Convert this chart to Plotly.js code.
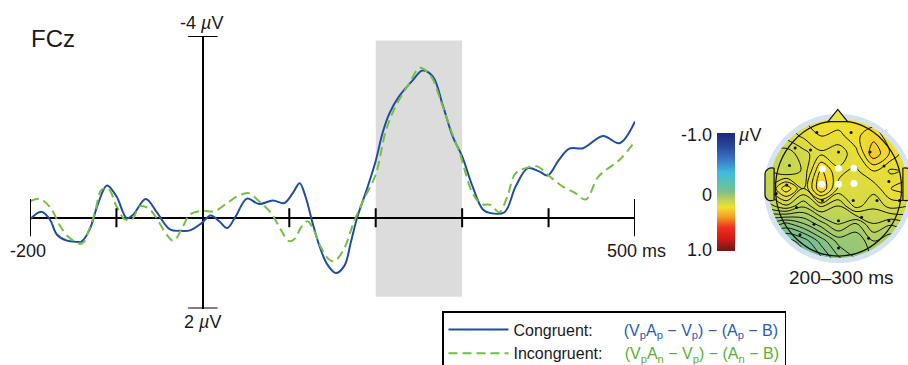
<!DOCTYPE html>
<html>
<head>
<meta charset="utf-8">
<script src="https://cdn.plot.ly/plotly-3.0.1.min.js"></script>
<style>
  html, body { margin: 0; padding: 0; background: #fff; }
  #chart { width: 908px; height: 365px; }
</style>
</head>
<body>
<div id="chart"></div>
<script>
// ---- ERP difference waves at FCz (time in ms, amplitude in µV; negative is plotted upward) ----
const congruentTime = [-200,-187,-177,-169,-158,-148,-140,-131,-121,-111,-100,-88,-81,-66,-54,-38,-25,-15,-2,
  9,19,28,38,51,65,81,94,104,112,119,127,135,144,154,164,171,179,190,200,208,216,227,243,254,266,278,289,300,
  312,324,333,349,362,376,389,399,412,424,440,463,482,500];
const congruentAmp = [0.04,-0.13,0.04,0.37,0.50,0.53,0.52,0.26,-0.32,-0.71,-0.47,0.01,-0.06,-0.41,-0.14,0.26,0.29,0.28,0.13,
  -0.05,0.08,0.23,-0.03,-0.42,-0.30,-0.38,-0.32,-0.54,-0.76,-0.45,0.12,0.63,1.03,1.22,1.05,0.56,-0.03,-0.64,-1.25,-1.87,-2.30,-2.67,-3.03,-3.24,-3.11,-2.45,-1.79,-1.35,
  -0.69,-0.18,-0.10,-0.12,-0.69,-1.09,-1.02,-0.93,-1.27,-1.52,-1.53,-1.80,-1.64,-2.12];

const incongruentTime = [-200,-188,-175,-165,-154,-140,-131,-125,-117,-109,-100,-90,-82,-73,-63,-54,-42,-34,-23,-15,0,
  13,28,40,53,65,79,90,100,107,113,121,128,136,146,152,163,175,188,200,212,223,239,251,264,275,287,298,304,
  312,322,333,343,352,362,377,387,401,416,431,443,458,482,500];
const incongruentAmp = [-0.36,-0.41,-0.18,0.19,0.45,0.57,0.23,-0.10,-0.62,-0.63,-0.25,0.04,0.04,-0.25,-0.21,0.00,0.37,0.51,0.19,-0.07,-0.15,
  -0.14,-0.32,-0.47,-0.54,-0.36,-0.10,0.26,0.52,0.45,0.23,0.08,0.26,0.63,0.92,0.96,0.70,0.08,-0.47,-0.95,-1.93,-2.45,-2.96,-3.30,-3.11,-2.59,-1.93,-1.38,-0.98,
  -0.54,-0.30,-0.28,-0.12,-0.45,-0.98,-1.11,-1.13,-0.91,-0.69,-0.54,-0.40,-0.91,-1.27,-1.68];

const xTickValues = [-200, -100, 100, 200, 300, 400, 500];
const timeRange = [-200, 500];
const ampRange = [2, -4];          // bottom, top
const analysisWindow = [200, 300]; // ms

// ---- Scalp map, 200–300 ms (normalised head coordinates, µV) ----
const mapCoord = [-1, -0.75, -0.5, -0.25, 0, 0.25, 0.5, 0.75, 1];
// rows listed from the front of the head (top) to the back (bottom)
const mapAmpFrontToBack = [
  [ 0.22, 0.23, 0.25, 0.26, 0.27, 0.27, 0.26, 0.25, 0.24],
  [ 0.20, 0.21, 0.23, 0.25, 0.24, 0.27, 0.29, 0.26, 0.24],
  [ 0.17, 0.16, 0.19, 0.22, 0.21, 0.24, 0.32, 0.27, 0.23],
  [ 0.18, 0.15, 0.18, 0.28, 0.23, 0.22, 0.25, 0.22, 0.23],
  [ 0.19, 0.27, 0.20, 0.30, 0.22, 0.21, 0.21, 0.25, 0.27],
  [ 0.14, 0.17, 0.13, 0.18, 0.15, 0.21, 0.18, 0.21, 0.20],
  [ 0.05, 0.02, 0.05, 0.09, 0.13, 0.10, 0.15, 0.13, 0.15],
  [-0.04,-0.06,-0.04, 0.01, 0.06, 0.05, 0.10, 0.08, 0.11],
  [-0.05,-0.06,-0.06,-0.03, 0.02, 0.05, 0.08, 0.09, 0.10]
];
const electrodeX = [-0.31, 0.18, -0.40, -0.70, -0.74, 0.65, 0.72, 0.55, 0.21, -0.23, -0.60, 0.00, 0.33, -0.35, 0.72, -0.55, 0.00, 0.43, 0.87, -0.89, 0.00, -0.62, 0.45];
const electrodeY = [ 0.80, 0.80, 0.55, 0.33, 0.05, 0.32, 0.10, -0.17, -0.17, -0.17, -0.27, -0.46, -0.41, -0.51, -0.46, -0.66, -0.85, -0.71, -0.17, -0.07, 0.52, 0.58, 0.52];
const clusterX = [-0.23, 0.00, 0.22, -0.24, 0.00, 0.22];
const clusterY = [ 0.28, 0.29, 0.29, 0.06, 0.06, 0.07];

// colour scale of the map, listed from -1 µV (top of the bar) to +1 µV (bottom)
const scaleColours = ['#1b2a78','#2a4aa0','#3a7ac8','#40b8e0','#5cc0b8','#80c088','#c0d458','#f0e030','#f5a020','#f03020','#d01818','#6a1818'];
const scaleStops   = [0, 0.12, 0.23, 0.33, 0.42, 0.5, 0.57, 0.63, 0.71, 0.80, 0.90, 1];

const FONT = 'Liberation Sans, Arial, sans-serif';
const W = 908, H = 365;
const px = v => v / W;          // horizontal pixel -> paper
const py = v => 1 - v / H;      // vertical pixel -> paper

const BLUE = '#1f4ea0';
const GREEN = '#74c043';

// waveform traces
const formulaBlue = '<span style="color:#2a5db0">(V<sub>p</sub>A<sub>p</sub> − V<sub>p</sub>) − (A<sub>p</sub> − B)</span>';
const formulaGreen = '<span style="color:#5aaf32">(V<sub>p</sub>A<sub>n</sub> − V<sub>p</sub>) − (A<sub>n</sub> − B)</span>';
const traces = [
  {
    x: congruentTime, y: congruentAmp, type: 'scatter', mode: 'lines',
    name: 'Congruent:\u00a0\u00a0\u00a0\u00a0\u00a0\u00a0\u00a0' + formulaBlue,
    line: { color: BLUE, width: 2, shape: 'spline', smoothing: 1 },
    xaxis: 'x', yaxis: 'y', hoverinfo: 'skip'
  },
  {
    x: incongruentTime, y: incongruentAmp, type: 'scatter', mode: 'lines',
    name: 'Incongruent:\u00a0\u00a0\u00a0\u00a0\u00a0' + formulaGreen,
    line: { color: GREEN, width: 2, dash: '9px,5px', shape: 'spline', smoothing: 1 },
    xaxis: 'x', yaxis: 'y', hoverinfo: 'skip'
  }
];

// scalp map: z is sign-flipped so that negative amplitudes sit at the top of the colour bar
const mapZ = mapAmpFrontToBack.slice().reverse().map(row => row.map(v => -v));
traces.push({
  type: 'heatmap', x: mapCoord, y: mapCoord, z: mapZ, zsmooth: 'best',
  xaxis: 'x2', yaxis: 'y2', showlegend: false, hoverinfo: 'skip',
  zauto: false, zmin: -1, zmax: 1,
  colorscale: scaleStops.map((s, i) => [1 - s, scaleColours[i]]).reverse(),
  colorbar: {
    x: px(717), xanchor: 'left', xpad: 0, ypad: 0,
    y: py(192), yanchor: 'middle', len: 118 / H, lenmode: 'fraction',
    thickness: 18, outlinewidth: 0, showticklabels: false, ticks: ''
  }
});
traces.push({
  type: 'contour', x: mapCoord, y: mapCoord, z: mapZ,
  xaxis: 'x2', yaxis: 'y2', showlegend: false, showscale: false, hoverinfo: 'skip',
  contours: { start: -0.5, end: 0.5, size: 0.025, coloring: 'none', showlines: true },
  line: { color: '#111', width: 1, smoothing: 1 }
});
traces.push({
  type: 'scatter', mode: 'markers', x: electrodeX, y: electrodeY,
  xaxis: 'x2', yaxis: 'y2', showlegend: false, hoverinfo: 'skip',
  marker: { color: '#111', size: 3 }
});
traces.push({
  type: 'scatter', mode: 'markers', x: clusterX, y: clusterY,
  xaxis: 'x2', yaxis: 'y2', showlegend: false, hoverinfo: 'skip',
  marker: { color: '#fff', size: 7, line: { width: 0 } }
});

// axis decorations for the waveform panel
const shapes = [];
shapes.push({
  type: 'rect', xref: 'x', yref: 'y', layer: 'below',
  x0: analysisWindow[0], x1: analysisWindow[1], y0: -3.9, y1: 1.74,
  fillcolor: '#dcdcdc', line: { width: 0 }
});
xTickValues.forEach(t => {
  const half = (t === timeRange[0] || t === timeRange[1]) ? 0.41 : 0.21;
  shapes.push({ type: 'line', xref: 'x', yref: 'y', x0: t, x1: t, y0: -half, y1: half,
                line: { color: '#000', width: 2 } });
});
ampRange.forEach(a => {
  shapes.push({ type: 'line', xref: 'x', yref: 'y', x0: -17, x1: 17, y0: a, y1: a,
                line: { color: '#000', width: 2 } });
});

// head drawing for the scalp map
function circlePath(r) {
  const k = 0.5523 * r;
  return `M${r},0 C${r},${k} ${k},${r} 0,${r} C${-k},${r} ${-r},${k} ${-r},0 ` +
         `C${-r},${-k} ${-k},${-r} 0,${-r} C${k},${-r} ${r},${-k} ${r},0 Z`;
}
shapes.push({ type: 'path', xref: 'x2', yref: 'y2', path: 'M-3,-3 L3,-3 L3,3 L-3,3 Z ' + circlePath(1),
              fillrule: 'evenodd', fillcolor: '#fff', line: { width: 0 } });
shapes.push({ type: 'circle', xref: 'x2', yref: 'y2', x0: -1.03, x1: 1.03, y0: -1.03, y1: 1.03,
              line: { color: '#d3e3f1', width: 5 } });
shapes.push({ type: 'circle', xref: 'x2', yref: 'y2', x0: -0.9, x1: 0.9, y0: -0.965, y1: 0.965,
              line: { color: '#111', width: 1.2 } });
shapes.push({ type: 'path', xref: 'x2', yref: 'y2', path: 'M-0.15,0.955 L-0.01,1.13 L0.13,0.955 Z',
              fillcolor: '#ece44a', line: { color: '#111', width: 1.2 } });
shapes.push({ type: 'path', xref: 'x2', yref: 'y2',
              path: 'M-0.92,0.29 C-0.98,0.31 -1.05,0.27 -1.05,0.2 L-1.05,-0.09 C-1.05,-0.16 -0.98,-0.19 -0.92,-0.165 Z',
              fillcolor: '#c4d450', line: { color: '#111', width: 1.2 } });
shapes.push({ type: 'path', xref: 'x2', yref: 'y2',
              path: 'M0.92,0.29 C0.98,0.31 1.05,0.27 1.05,0.2 L1.05,-0.09 C1.05,-0.16 0.98,-0.19 0.92,-0.165 Z',
              fillcolor: '#e2dc40', line: { color: '#111', width: 1.2 } });

const txt = (text, x, y, size, extra) => Object.assign({
  text, x, y, xref: 'paper', yref: 'paper', showarrow: false,
  font: { family: FONT, size, color: '#1a1a1a' }, xanchor: 'center', yanchor: 'middle'
}, extra || {});

const annotations = [
  txt('FCz', px(29), py(38), 24, { xanchor: 'left' }),
  txt('-4 <i>µ</i>V', px(201), py(23), 18),
  txt('2 <i>µ</i>V', px(202), py(322), 18),
  txt('-200', px(28), py(251), 18),
  txt('500 ms', px(636), py(251), 18),
  txt('-1.0', px(714), py(135), 18, { xanchor: 'right' }),
  txt('0', px(714), py(195), 18, { xanchor: 'right' }),
  txt('1.0', px(714), py(250), 18, { xanchor: 'right' }),
  txt('<i>µ</i>V', px(736), py(135), 18, { xanchor: 'left' }),
  txt('200–300 ms', px(841), py(277), 19)
];

const mapUnit = 70;              // px per normalised head unit
const mapCx = 838.5, mapCy = 188.5;
const layout = {
  width: W, height: H,
  margin: { l: 0, r: 0, t: 0, b: 0, autoexpand: false },
  paper_bgcolor: '#fff', plot_bgcolor: 'rgba(0,0,0,0)',
  font: { family: FONT, color: '#1a1a1a' },
  showlegend: true,
  legend: {
    x: px(442), y: py(311), xanchor: 'left', yanchor: 'top',
    bordercolor: '#000', borderwidth: 1.5, bgcolor: '#fff',
    font: { family: FONT, size: 16, color: '#1a1a1a' },
    itemwidth: 60, tracegroupgap: 0
  },
  xaxis: {
    domain: [px(30), px(635)], range: timeRange,
    showgrid: false, showticklabels: false, ticks: '', showline: false,
    zeroline: true, zerolinecolor: '#000', zerolinewidth: 2, fixedrange: true
  },
  yaxis: {
    domain: [py(308.5), py(36)], range: ampRange,
    showgrid: false, showticklabels: false, ticks: '', showline: false,
    zeroline: true, zerolinecolor: '#000', zerolinewidth: 2, fixedrange: true
  },
  xaxis2: {
    domain: [px(mapCx - 1.12 * mapUnit), 1], range: [-1.12, (W - mapCx) / mapUnit],
    visible: false, fixedrange: true, anchor: 'y2'
  },
  yaxis2: {
    domain: [py(mapCy + 1.12 * mapUnit), py(mapCy - 1.25 * mapUnit)], range: [-1.12, 1.25],
    visible: false, fixedrange: true, anchor: 'x2'
  },
  shapes, annotations
};

Plotly.newPlot('chart', traces, layout, { staticPlot: true, displayModeBar: false });
</script>
</body>
</html>
